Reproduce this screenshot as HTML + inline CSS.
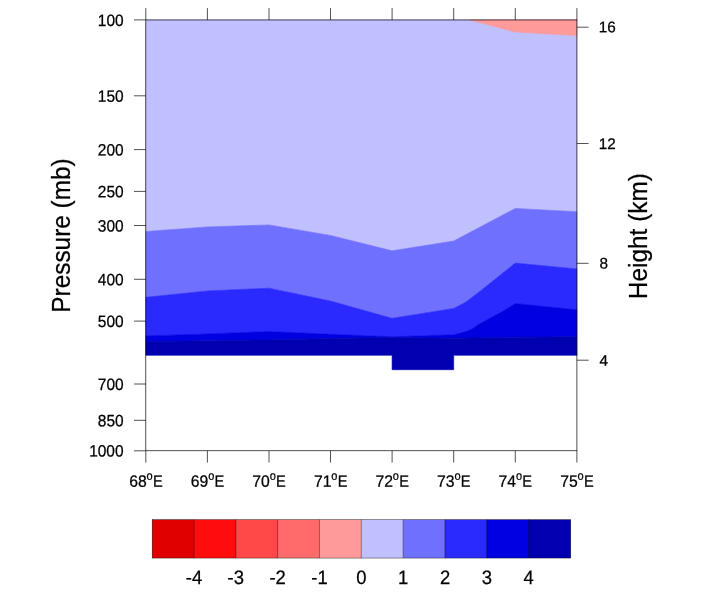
<!DOCTYPE html><html><head><meta charset="utf-8"><title>Pressure Height plot</title>
<style>html,body{margin:0;padding:0;background:#fff;}svg{display:block;}text{font-family:"Liberation Sans",sans-serif;fill:#000;stroke:#000;stroke-width:0.25px;}</style></head><body>
<svg width="703" height="600" viewBox="0 0 703 600">
<rect x="0" y="0" width="703" height="600" fill="#fff"/>
<path d="M145.8,19.9 L576.9,19.9 L576.9,211.7 L515.3,208.4 L453.7,241.0 L392.1,250.8 L330.5,235.4 L269.0,224.9 L207.4,226.9 L145.8,231.5Z" fill="#C0C0FF" stroke="#C0C0FF" stroke-width="0.6"/>
<path d="M145.8,231.5 L207.4,226.9 L269.0,224.9 L330.5,235.4 L392.1,250.8 L453.7,241.0 L515.3,208.4 L576.9,211.7 L576.9,268.9 L515.3,263.1 L481.6,290.0 L465.6,302.2 L453.7,308.4 L392.1,318.3 L330.5,301.0 L269.0,288.2 L207.4,290.9 L145.8,297.3Z" fill="#7070FF" stroke="#7070FF" stroke-width="0.6"/>
<path d="M145.8,297.3 L207.4,290.9 L269.0,288.2 L330.5,301.0 L392.1,318.3 L453.7,308.4 L465.6,302.2 L481.6,290.0 L515.3,263.1 L576.9,268.9 L576.9,309.8 L515.3,303.5 L504.0,310.5 L491.2,317.5 L478.4,324.6 L472.0,329.0 L465.6,331.6 L453.7,334.8 L392.1,336.8 L330.5,334.3 L269.0,331.5 L207.4,333.9 L145.8,335.9Z" fill="#2A2AFF" stroke="#2A2AFF" stroke-width="0.6"/>
<path d="M145.8,335.9 L207.4,333.9 L269.0,331.5 L330.5,334.3 L392.1,336.8 L453.7,334.8 L465.6,331.6 L472.0,329.0 L478.4,324.6 L491.2,317.5 L504.0,310.5 L515.3,303.5 L576.9,309.8 L576.9,336.7 L515.3,337.3 L453.7,338.2 L392.1,337.4 L330.5,338.5 L269.0,339.9 L207.4,340.8 L145.8,341.6Z" fill="#0000E0" stroke="#0000E0" stroke-width="0.6"/>
<path d="M145.8,341.6 L207.4,340.8 L269.0,339.9 L330.5,338.5 L392.1,337.4 L453.7,338.2 L515.3,337.3 L576.9,336.7 L576.9,355.3 L453.7,355.3 L453.7,369.7 L392.1,369.7 L392.1,355.3 L145.8,355.3Z" fill="#0000B0" stroke="#0000B0" stroke-width="0.6"/>
<path d="M469.8,19.9 L576.9,19.9 L576.9,35.6 L515.3,32.0 L469.8,19.9Z" fill="#FF9A9A" stroke="#FF9A9A" stroke-width="0.6"/>
<g stroke="#000" stroke-width="0.68" fill="none" stroke-linecap="butt">
<rect x="145.8" y="19.95" width="431.1" height="430.8"/>
<line x1="145.8" y1="19.95" x2="145.8" y2="8.1"/>
<line x1="145.8" y1="450.75" x2="145.8" y2="462.6"/>
<line x1="207.4" y1="19.95" x2="207.4" y2="8.1"/>
<line x1="207.4" y1="450.75" x2="207.4" y2="462.6"/>
<line x1="269.0" y1="19.95" x2="269.0" y2="8.1"/>
<line x1="269.0" y1="450.75" x2="269.0" y2="462.6"/>
<line x1="330.5" y1="19.95" x2="330.5" y2="8.1"/>
<line x1="330.5" y1="450.75" x2="330.5" y2="462.6"/>
<line x1="392.1" y1="19.95" x2="392.1" y2="8.1"/>
<line x1="392.1" y1="450.75" x2="392.1" y2="462.6"/>
<line x1="453.7" y1="19.95" x2="453.7" y2="8.1"/>
<line x1="453.7" y1="450.75" x2="453.7" y2="462.6"/>
<line x1="515.3" y1="19.95" x2="515.3" y2="8.1"/>
<line x1="515.3" y1="450.75" x2="515.3" y2="462.6"/>
<line x1="576.9" y1="19.95" x2="576.9" y2="8.1"/>
<line x1="576.9" y1="450.75" x2="576.9" y2="462.6"/>
<line x1="145.8" y1="19.9" x2="134.0" y2="19.9"/>
<line x1="145.8" y1="95.8" x2="134.0" y2="95.8"/>
<line x1="145.8" y1="149.6" x2="134.0" y2="149.6"/>
<line x1="145.8" y1="191.4" x2="134.0" y2="191.4"/>
<line x1="145.8" y1="225.5" x2="134.0" y2="225.5"/>
<line x1="145.8" y1="279.3" x2="134.0" y2="279.3"/>
<line x1="145.8" y1="321.1" x2="134.0" y2="321.1"/>
<line x1="145.8" y1="384.0" x2="134.0" y2="384.0"/>
<line x1="145.8" y1="420.3" x2="134.0" y2="420.3"/>
<line x1="145.8" y1="450.8" x2="134.0" y2="450.8"/>
<line x1="576.85" y1="27.2" x2="588.6" y2="27.2"/>
<line x1="576.85" y1="143.5" x2="588.6" y2="143.5"/>
<line x1="576.85" y1="263.3" x2="588.6" y2="263.3"/>
<line x1="576.85" y1="360.2" x2="588.6" y2="360.2"/>
</g>
<text transform="translate(123.6,25.9) scale(0.945,1) rotate(0.05)" font-size="16.4" text-anchor="end">100</text>
<text transform="translate(123.6,101.7) scale(0.945,1) rotate(0.05)" font-size="16.4" text-anchor="end">150</text>
<text transform="translate(123.6,155.5) scale(0.945,1) rotate(0.05)" font-size="16.4" text-anchor="end">200</text>
<text transform="translate(123.6,197.3) scale(0.945,1) rotate(0.05)" font-size="16.4" text-anchor="end">250</text>
<text transform="translate(123.6,231.4) scale(0.945,1) rotate(0.05)" font-size="16.4" text-anchor="end">300</text>
<text transform="translate(123.6,285.2) scale(0.945,1) rotate(0.05)" font-size="16.4" text-anchor="end">400</text>
<text transform="translate(123.6,327.0) scale(0.945,1) rotate(0.05)" font-size="16.4" text-anchor="end">500</text>
<text transform="translate(123.6,389.9) scale(0.945,1) rotate(0.05)" font-size="16.4" text-anchor="end">700</text>
<text transform="translate(123.6,426.2) scale(0.945,1) rotate(0.05)" font-size="16.4" text-anchor="end">850</text>
<text transform="translate(123.6,456.6) scale(0.945,1) rotate(0.05)" font-size="16.4" text-anchor="end">1000</text>
<text transform="translate(598.8,32.15) scale(1.0,1) rotate(0.05)" font-size="15.3" text-anchor="start">16</text>
<text transform="translate(598.8,149.00) scale(1.0,1) rotate(0.05)" font-size="15.3" text-anchor="start">12</text>
<text transform="translate(599.4,268.40) scale(1.0,1) rotate(0.05)" font-size="15.3" text-anchor="start">8</text>
<text transform="translate(599.4,365.70) scale(1.0,1) rotate(0.05)" font-size="15.3" text-anchor="start">4</text>
<text transform="translate(146.65,486.7) scale(0.96,1) rotate(0.05)" font-size="16.4" text-anchor="end">68</text>
<text transform="translate(146.55,479.8) scale(0.92,1) rotate(0.05)" font-size="12" text-anchor="start">o</text>
<text transform="translate(152.90,486.7) scale(0.89,1) rotate(0.05)" font-size="16.4" text-anchor="start">E</text>
<text transform="translate(208.23,486.7) scale(0.96,1) rotate(0.05)" font-size="16.4" text-anchor="end">69</text>
<text transform="translate(208.13,479.8) scale(0.92,1) rotate(0.05)" font-size="12" text-anchor="start">o</text>
<text transform="translate(214.48,486.7) scale(0.89,1) rotate(0.05)" font-size="16.4" text-anchor="start">E</text>
<text transform="translate(269.81,486.7) scale(0.96,1) rotate(0.05)" font-size="16.4" text-anchor="end">70</text>
<text transform="translate(269.71,479.8) scale(0.92,1) rotate(0.05)" font-size="12" text-anchor="start">o</text>
<text transform="translate(276.06,486.7) scale(0.89,1) rotate(0.05)" font-size="16.4" text-anchor="start">E</text>
<text transform="translate(331.39,486.7) scale(0.96,1) rotate(0.05)" font-size="16.4" text-anchor="end">71</text>
<text transform="translate(331.29,479.8) scale(0.92,1) rotate(0.05)" font-size="12" text-anchor="start">o</text>
<text transform="translate(337.64,486.7) scale(0.89,1) rotate(0.05)" font-size="16.4" text-anchor="start">E</text>
<text transform="translate(392.96,486.7) scale(0.96,1) rotate(0.05)" font-size="16.4" text-anchor="end">72</text>
<text transform="translate(392.86,479.8) scale(0.92,1) rotate(0.05)" font-size="12" text-anchor="start">o</text>
<text transform="translate(399.21,486.7) scale(0.89,1) rotate(0.05)" font-size="16.4" text-anchor="start">E</text>
<text transform="translate(454.54,486.7) scale(0.96,1) rotate(0.05)" font-size="16.4" text-anchor="end">73</text>
<text transform="translate(454.44,479.8) scale(0.92,1) rotate(0.05)" font-size="12" text-anchor="start">o</text>
<text transform="translate(460.79,486.7) scale(0.89,1) rotate(0.05)" font-size="16.4" text-anchor="start">E</text>
<text transform="translate(516.12,486.7) scale(0.96,1) rotate(0.05)" font-size="16.4" text-anchor="end">74</text>
<text transform="translate(516.02,479.8) scale(0.92,1) rotate(0.05)" font-size="12" text-anchor="start">o</text>
<text transform="translate(522.37,486.7) scale(0.89,1) rotate(0.05)" font-size="16.4" text-anchor="start">E</text>
<text transform="translate(577.70,486.7) scale(0.96,1) rotate(0.05)" font-size="16.4" text-anchor="end">75</text>
<text transform="translate(577.60,479.8) scale(0.92,1) rotate(0.05)" font-size="12" text-anchor="start">o</text>
<text transform="translate(583.95,486.7) scale(0.89,1) rotate(0.05)" font-size="16.4" text-anchor="start">E</text>
<text transform="translate(69.8,235.5) rotate(-90) scale(0.937,1)" font-size="26" text-anchor="middle">Pressure (mb)</text>
<text transform="translate(646.5,236.1) rotate(-90) scale(0.95,1)" font-size="25.7" text-anchor="middle">Height (km)</text>
<rect x="152.15" y="519.65" width="42.13" height="38.4" fill="#E00000"/>
<rect x="193.98" y="519.65" width="42.13" height="38.4" fill="#FF0C0C"/>
<rect x="235.81" y="519.65" width="42.13" height="38.4" fill="#FF4848"/>
<rect x="277.64" y="519.65" width="42.13" height="38.4" fill="#FF6B6B"/>
<rect x="319.47" y="519.65" width="42.13" height="38.4" fill="#FF9A9A"/>
<rect x="361.30" y="519.65" width="42.13" height="38.4" fill="#C0C0FF"/>
<rect x="403.13" y="519.65" width="42.13" height="38.4" fill="#7070FF"/>
<rect x="444.96" y="519.65" width="42.13" height="38.4" fill="#2A2AFF"/>
<rect x="486.79" y="519.65" width="42.13" height="38.4" fill="#0000E0"/>
<rect x="528.62" y="519.65" width="42.13" height="38.4" fill="#0000B0"/>
<g stroke="#000" stroke-width="0.4" fill="none">
<rect x="152.15" y="519.65" width="418.3" height="38.4"/>
<line x1="193.98" y1="519.65" x2="193.98" y2="558.0"/>
<line x1="235.81" y1="519.65" x2="235.81" y2="558.0"/>
<line x1="277.64" y1="519.65" x2="277.64" y2="558.0"/>
<line x1="319.47" y1="519.65" x2="319.47" y2="558.0"/>
<line x1="361.30" y1="519.65" x2="361.30" y2="558.0"/>
<line x1="403.13" y1="519.65" x2="403.13" y2="558.0"/>
<line x1="444.96" y1="519.65" x2="444.96" y2="558.0"/>
<line x1="486.79" y1="519.65" x2="486.79" y2="558.0"/>
<line x1="528.62" y1="519.65" x2="528.62" y2="558.0"/>
</g>
<text transform="translate(194.0,584.1) scale(0.95,1) rotate(0.05)" font-size="19.4" text-anchor="middle">-4</text>
<text transform="translate(235.8,584.1) scale(0.95,1) rotate(0.05)" font-size="19.4" text-anchor="middle">-3</text>
<text transform="translate(277.6,584.1) scale(0.95,1) rotate(0.05)" font-size="19.4" text-anchor="middle">-2</text>
<text transform="translate(319.5,584.1) scale(0.95,1) rotate(0.05)" font-size="19.4" text-anchor="middle">-1</text>
<text transform="translate(361.3,584.1) scale(0.95,1) rotate(0.05)" font-size="19.4" text-anchor="middle">0</text>
<text transform="translate(403.1,584.1) scale(0.95,1) rotate(0.05)" font-size="19.4" text-anchor="middle">1</text>
<text transform="translate(445.0,584.1) scale(0.95,1) rotate(0.05)" font-size="19.4" text-anchor="middle">2</text>
<text transform="translate(486.8,584.1) scale(0.95,1) rotate(0.05)" font-size="19.4" text-anchor="middle">3</text>
<text transform="translate(528.6,584.1) scale(0.95,1) rotate(0.05)" font-size="19.4" text-anchor="middle">4</text>
</svg></body></html>
